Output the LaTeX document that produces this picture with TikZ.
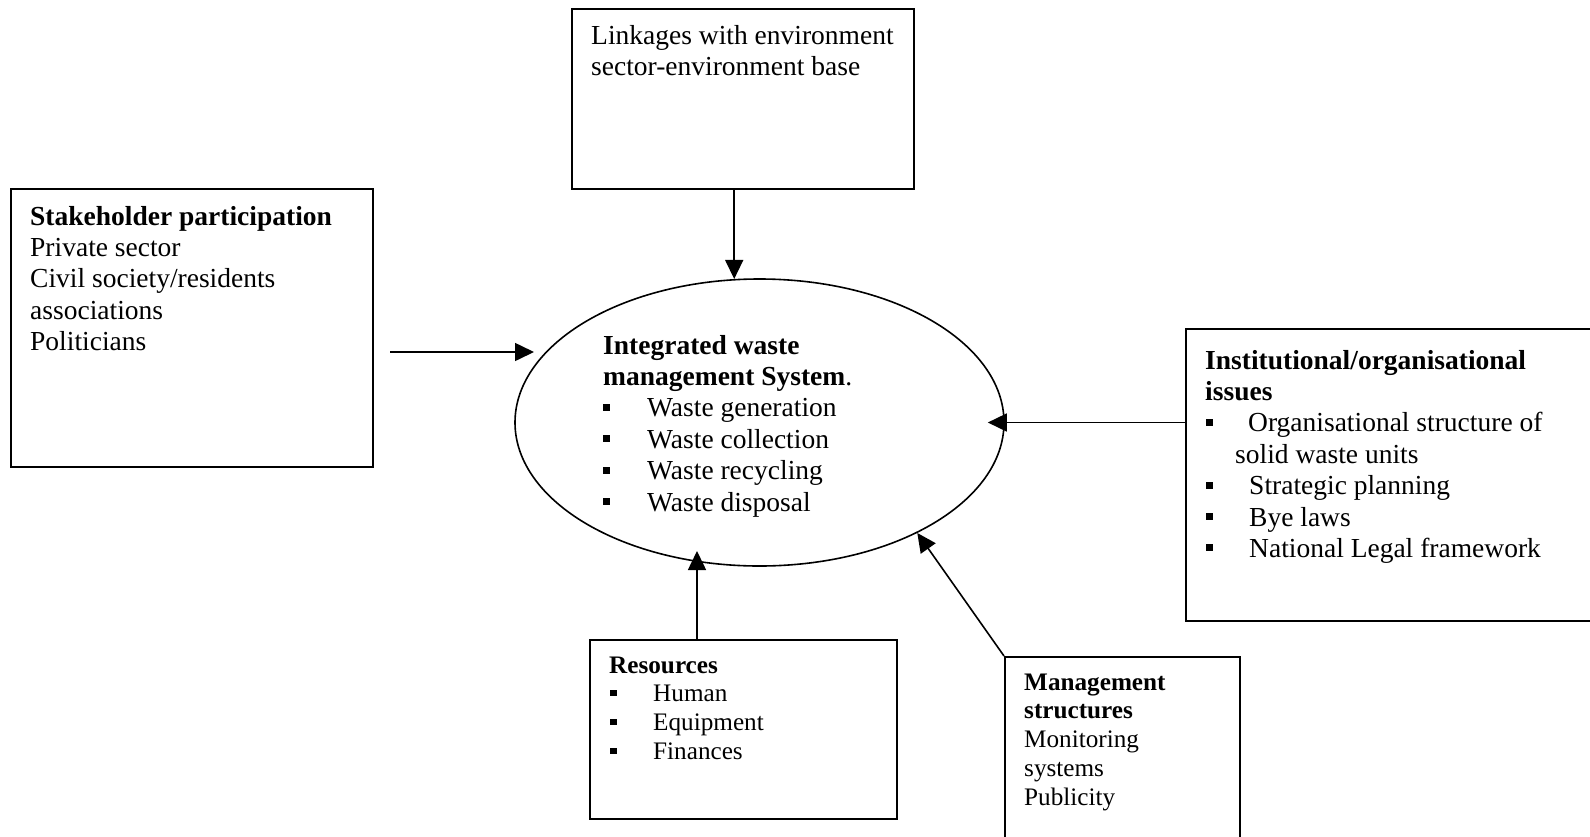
\documentclass[tikz,border=0pt]{standalone}
\usepackage{fontspec}
\setmainfont{Liberation Serif}
\usetikzlibrary{shapes.geometric,arrows.meta}
\newcommand\fbig{\fontsize{27.5}{31.4}\selectfont}
\newcommand\fsml{\fontsize{25.2}{28.9}\selectfont}
\newcommand\sqb{\raisebox{6pt}{\rule{7pt}{7pt}}}
\newcommand\sqbs{\raisebox{5.5pt}{\rule{6.5pt}{6.5pt}}}
\tikzset{
  box/.style={draw, line width=1.6pt, rectangle, inner sep=0pt, anchor=north west},
  txt/.style={anchor=base west, inner sep=0pt},
  arr/.style={line width=1.6pt, -{Triangle[length=19pt,width=18pt]}}
}
\begin{document}
\begin{tikzpicture}[x=1pt,y=-1pt]
\useasboundingbox (0,0) rectangle (1590,836);
\fill[white] (0,0) rectangle (1590,836);
\clip (0,0) rectangle (1590,836);

% boxes
\node[box, minimum width=342pt, minimum height=180pt] (top) at (571,8) {};
\node[box, minimum width=362pt, minimum height=278pt] (stake) at (10,188) {};
\node[box, minimum width=405pt, minimum height=292pt] (inst) at (1185,328) {};
\node[box, minimum width=307pt, minimum height=179pt] (res) at (589,639) {};
\node[box, minimum width=235pt, minimum height=220pt] (mgmt) at (1004,656) {};
\node[draw, ellipse, line width=1.6pt, minimum width=489pt, minimum height=287pt, inner sep=0pt] (ell) at (759.5,422.5) {};

% texts
\node[txt] (ttop) at (591,44) {\parbox[t]{330pt}{\fbig\raggedright
Linkages with environment\\
sector-environment base}};

\node[txt] (tstake) at (30,225) {\parbox[t]{340pt}{\fbig\raggedright
\textbf{Stakeholder participation}\\
Private sector\\
Civil society/residents\\
associations\\
Politicians}};

\node[txt] (tell) at (603,354) {\parbox[t]{380pt}{\fbig\raggedright
\textbf{Integrated waste}\\
\textbf{management System}.\\
\makebox[44pt][l]{\sqb}Waste generation\\
\makebox[44pt][l]{\sqb}Waste collection\\
\makebox[44pt][l]{\sqb}Waste recycling\\
\makebox[44pt][l]{\sqb}Waste disposal}};

\node[txt] (tinst) at (1205,369) {\parbox[t]{380pt}{\fbig\raggedright
\textbf{Institutional/organisational}\\
\textbf{issues}\\
\hspace*{1pt}\makebox[42pt][l]{\sqb}Organisational structure of\\
\hspace*{30pt}solid waste units\\
\hspace*{1pt}\makebox[43pt][l]{\sqb}Strategic planning\\
\hspace*{1pt}\makebox[43pt][l]{\sqb}Bye laws\\
\hspace*{1pt}\makebox[43pt][l]{\sqb}National Legal framework}};

\node[txt] (tres) at (609,673) {\parbox[t]{280pt}{\fsml\raggedright
\textbf{Resources}\\
\hspace*{1pt}\makebox[43pt][l]{\sqbs}Human\\
\hspace*{1pt}\makebox[43pt][l]{\sqbs}Equipment\\
\hspace*{1pt}\makebox[43pt][l]{\sqbs}Finances}};

\node[txt] (tmgmt) at (1024,690) {\parbox[t]{210pt}{\fsml\raggedright
\textbf{Management}\\
\textbf{structures}\\
Monitoring\\
systems\\
Publicity}};

% connectors
\draw[arr] (top.south -| ell.100.5) -- (ell.100.5);
\coordinate (sA) at (390,352);
\coordinate (sB) at (534,352);
\draw[arr] (sA) -- (sB);
\draw[arr] (inst.west |- ell.east) -- ([xshift=-17pt]ell.east);
\coordinate (rT) at (697,551);
\draw[arr] (res.north -| rT) -- (rT);
\draw[arr] (mgmt.north west) -- (ell.-35.4);
\end{tikzpicture}
\end{document}
